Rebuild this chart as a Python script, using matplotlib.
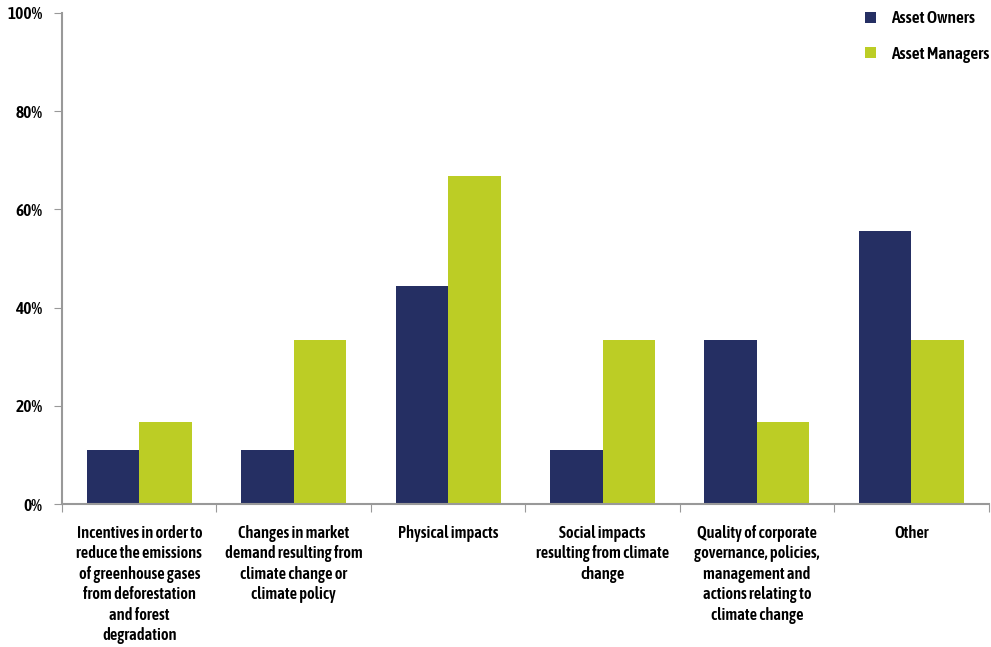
import numpy as np
import matplotlib.pyplot as plt

# data
categories = [
    "Incentives in order to\nreduce the emissions\nof greenhouse gases\nfrom deforestation\nand forest\ndegradation",
    "Changes in market\ndemand resulting from\nclimate change or\nclimate policy",
    "Physical impacts",
    "Social impacts\nresulting from climate\nchange",
    "Quality of corporate\ngovernance, policies,\nmanagement and\nactions relating to\nclimate change",
    "Other",
]
asset_owners = [11.1, 11.1, 44.4, 11.1, 33.3, 55.6]
asset_managers = [16.7, 33.3, 66.7, 33.3, 16.7, 33.3]
y_ticks = [0, 20, 40, 60, 80, 100]

# condensed bold face, falls back to DejaVu if missing
plt.rcParams['font.family'] = ['Asap Condensed', 'Archivo Narrow', 'DejaVu Sans']
W = 600

fig = plt.figure(figsize=(9.91, 6.47), dpi=100)
ax = fig.add_axes([0.0626, 0.221, 0.935, 0.759])

x = np.arange(len(categories))
w = 0.34
ax.bar(x - w / 2, asset_owners, w, color='#252f63', label='Asset Owners')
ax.bar(x + w / 2, asset_managers, w, color='#bccd25', label='Asset Managers')

ax.set_xlim(-0.5, len(categories) - 0.5)
ax.set_ylim(0, 100)
ax.set_yticks(y_ticks)
ax.set_yticklabels([f"{t}%" for t in y_ticks], fontsize=12.5, fontweight=W)

# category ticks sit between groups, labels centred under them
ax.set_xticks(np.arange(len(categories) + 1) - 0.5)
ax.set_xticklabels([])
ax.set_xticks(x, minor=True)
ax.set_xticklabels(categories, minor=True, fontsize=11.8, fontweight=W, linespacing=1.27)
ax.tick_params(axis='x', which='minor', length=0, pad=15)
ax.tick_params(axis='x', which='major', length=6, color='#999999', direction='out')
ax.tick_params(axis='y', length=6, color='#999999', direction='out', pad=8)

for side in ['top', 'right']:
    ax.spines[side].set_visible(False)
for side in ['left', 'bottom']:
    ax.spines[side].set_color('#999999')
    ax.spines[side].set_linewidth(1.5)

ax.legend(loc='upper right', bbox_to_anchor=(1.018, 1.037), frameon=False,
          handlelength=0.6, handleheight=0.6, labelspacing=1.05,
          handletextpad=0.9, prop={'weight': W, 'size': 12.5})

plt.savefig('out.png', dpi=100)
plt.close()
